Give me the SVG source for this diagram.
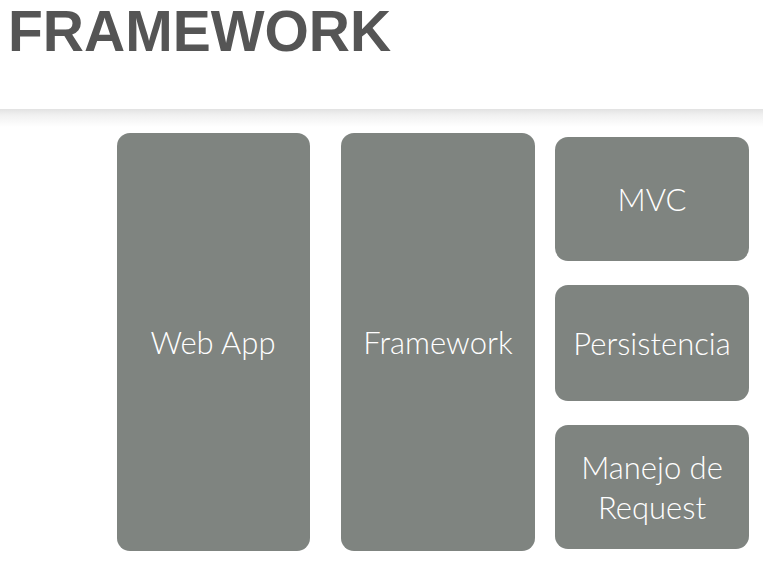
<svg xmlns="http://www.w3.org/2000/svg" width="763" height="562" viewBox="0 0 763 562">
<defs>
<linearGradient id="sh" x1="0" y1="0" x2="0" y2="1">
<stop offset="0" stop-color="#e2e2e2"/>
<stop offset="0.35" stop-color="#f1f1f1"/>
<stop offset="1" stop-color="#ffffff"/>
</linearGradient>
<style>
.box{fill:#7f8480}
.lbl{fill:#ffffff;font-family:Lato,"Open Sans","Liberation Sans",sans-serif;font-weight:300;font-size:31px;text-anchor:middle}
.title{fill:#555555;font-family:"Liberation Sans",Arial,sans-serif;font-weight:bold;font-size:57px}
</style>
</defs>
<rect width="763" height="562" fill="#ffffff"/>
<text class="title" x="8" y="51">FRAMEWORK</text>
<rect x="0" y="109" width="763" height="18" fill="url(#sh)"/>
<g id="webapp"><rect class="box" x="117" y="133" width="193" height="418" rx="13"/><text class="lbl" x="213" y="354">Web App</text></g>
<g id="framework"><rect class="box" x="341" y="133" width="194" height="418" rx="13"/><text class="lbl" x="438" y="354">Framework</text></g>
<g id="mvc"><rect class="box" x="555" y="137" width="194" height="124" rx="13"/><text class="lbl" x="652" y="211">MVC</text></g>
<g id="persistencia"><rect class="box" x="555" y="285" width="194" height="116" rx="13"/><text class="lbl" x="652" y="355">Persistencia</text></g>
<g id="manejo"><rect class="box" x="555" y="425" width="194" height="124" rx="13"/><text class="lbl" x="652" y="479">Manejo de</text><text class="lbl" x="652" y="519">Request</text></g>
<g id="connectors"></g>
</svg>
